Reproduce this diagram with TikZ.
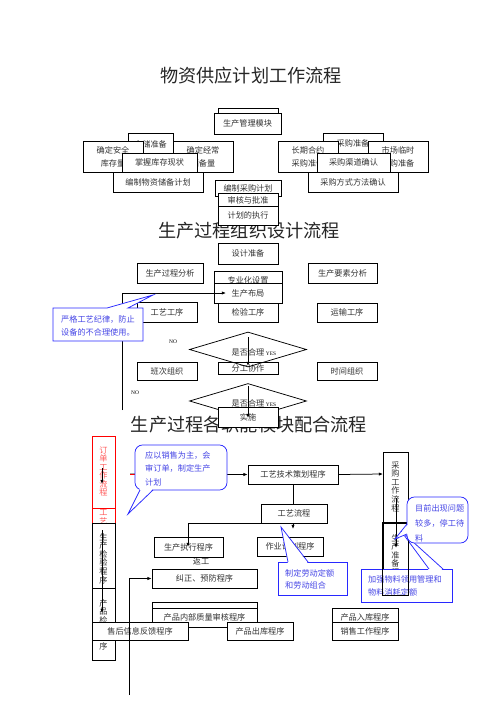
\documentclass[tikz,border=0pt]{standalone}
\usepackage{fontspec}
\setmainfont{Liberation Serif}
\newfontfamily\cjk{Noto Sans CJK SC}
\usetikzlibrary{arrows.meta,shapes.geometric}
\definecolor{cb}{RGB}{40,40,255}
\definecolor{ct}{RGB}{70,70,230}
\definecolor{cr}{RGB}{255,0,0}
\definecolor{crt}{RGB}{255,90,90}
\tikzset{
 box/.style={draw,fill=white,line width=0.9pt,inner sep=0pt,font=\cjk\fontsize{9.8}{15.6}\selectfont,text=black!80,align=center},
 ttl/.style={font=\cjk\fontsize{21.8}{24}\selectfont,text=black!85,inner sep=0pt},
 arr/.style={line width=0.9pt,-{Latex[length=5pt,width=4pt]}},
 ln/.style={line width=0.9pt},
 co/.style={draw=cb,fill=white,line width=0.9pt},
 cot/.style={font=\cjk\fontsize{9.8}{#1}\selectfont,text=ct,align=left,inner sep=0pt,anchor=west},
 vt/.style={font=\cjk\fontsize{9.8}{10.3}\selectfont,align=center,inner sep=0pt,text=black!80},
 yn/.style={font=\fontsize{6.5}{7}\selectfont,inner sep=0pt},
 dia/.style={draw,diamond,line width=0.9pt,inner sep=0pt,minimum width=140.4pt,minimum height=42pt,aspect=3.3},
}
\newcommand\bx[7][]{\node[box,minimum width={(#5-#3)*1.2pt},minimum height={(#6-#4)*1.2pt},#1] (#2) at ({(#3+#5)/2},{(#4+#6)/2}) {#7};}
\begin{document}
\begin{tikzpicture}[x=1.2pt,y=-1.2pt]
\fill[white] (0,0) rectangle (496,702);
\useasboundingbox (0,0) rectangle (496,702);
% titles
\node[ttl] (t1) at (251,76) {物资供应计划工作流程};
\node[ttl] (t2) at (249,231) {生产过程组织设计流程};
\node[ttl] (t3) at (249,425) {生产过程各职能模块配合流程};
% ===== section 1 =====
\bx{mb}{218}{108}{278}{120}{}
\bx{m}{214}{113}{281}{134}{生产管理模块}
\bx{cc}{128}{133}{173}{155}{仓储准备}
\bx{aq}{83}{141}{143}{172}{确定安全\\库存量}
\bx{jc}{173}{141}{233}{172}{确定经常\\储备量}
\bx{zw}{122}{153}{197}{172}{掌握库存现状}
\bx{bz}{113}{172}{203}{192}{编制物资储备计划}
\bx{cg}{323}{133}{383}{153}{采购准备}
\bx{cq}{278}{141}{338}{172}{长期合约\\采购准备}
\bx{sc}{368}{141}{428}{172}{市场临时\\采购准备}
\bx{qd}{317}{153}{390}{172}{采购渠道确认}
\bx{fs}{308}{172}{398}{192}{采购方式方法确认}
\bx{bc}{215}{180}{281}{196}{编制采购计划}
\bx{sh}{218}{193}{278}{208}{审核与批准}
\bx{zx}{218}{206}{278}{225}{计划的执行}
% ===== section 2 =====
\bx{sj}{218}{243}{278}{264}{设计准备}
\bx{gcfx}{137}{263}{203}{283}{生产过程分析}
\bx{zy}{214}{271}{282}{290}{专业化设置}
\bx{bj}{214}{283}{282}{303}{生产布局}
\bx{ys}{308}{263}{377}{283}{生产要素分析}
\bx{gy}{137}{302}{197}{322}{工艺工序}
\bx{jy}{218}{303}{278}{322}{检验工序}
\bx{ysgx}{317}{303}{377}{322}{运输工序}
\coordinate (c1) at (122,410);
\coordinate (c2) at (226,293);
\draw[arr] (c1) |- (c2);
\draw[co] (53,308) -- (107,308) -- (153,295) -- (128,308) -- (143,308) -- (143,341) -- (53,341) -- cycle;
\node[cot=15.6pt] (cy1) at (61,325.5) {严格工艺纪律，防止\\设备的不合理使用。};
\bx{bc2}{137}{362}{197}{380}{班次组织}
\bx{fg}{218}{362}{278}{374}{分工协作}
\bx{sjzz}{317}{362}{377}{380}{时间组织}
\node[dia] (d1) at (248,349.5) {};
\node[box,draw=none,fill=none] (d1t) at (248,352) {是否合理};
\node[yn] (y1) at (271,354) {YES};
\node[yn] (n1) at (173,342) {NO};
\coordinate (a1) at (248,337);
\coordinate (a1e) at (248,366);
\draw[arr] (a1) -- (a1e);
\node[dia] (d2) at (248,401) {};
\node[box,draw=none,fill=none] (d2t) at (248,403) {是否合理};
\node[yn] (y2) at (271,405) {YES};
\node[yn] (n2) at (135,393) {NO};
\bx{ss}{218}{407}{278}{427}{实施}
\coordinate (a2) at (248,386);
\coordinate (a2e) at (248,418);
\draw[arr] (a2) -- (a2e);
% ===== section 3 =====
\bx[draw=cr]{r1}{92}{436}{115}{508}{}
\node[vt,text=crt] (r1t) at (103.5,471.5) {订\\单\\工\\作\\流\\程};
\bx[draw=cr]{r2}{92}{508}{115}{535}{}
\node[vt,text=crt] (r2t) at (103.5,517) {工\\艺};
\bx{k3}{92}{523}{115}{588}{}
\node[vt] (k3t) at (103.5,558.5) {生\\产\\检\\验\\程\\序};
\bx{k4}{92}{588}{115}{660}{}
\node[vt] (k4t) at (103.5,624.5) {产\\品\\检\\验\\程\\序};
\bx{cgc}{383}{452}{408}{523}{}
\node[vt] (cgct) at (395.5,486.5) {采\\购\\工\\作\\流\\程};
\bx{scz}{383}{523}{408}{595}{}
\node[vt] (sczt) at (395.5,559.5) {生\\产\\准\\备\\程\\序};
\coordinate (b1) at (130,474);
\coordinate (b1r) at (136,474);
\bx{jh}{248}{465}{338}{484}{工艺技术策划程序}
\draw[arr] (b1) -- (jh.west);
\draw[ln,cr] (b1) -- (b1r);
\draw[co,rounded corners=9pt] (135,445) rectangle (227,490);
\fill[white] (140,488.6) -- (128,514) -- (153,488.6) -- cycle;
\draw[ln,cb] (140,490) -- (128,514) -- (153,490);
\node[cot=16.2pt] (yy) at (145,468.5) {应以销售为主，会\\审订单，制定生产\\计划};
\coordinate (b2) at (383,474);
\draw[arr] (jh.east) -- (b2);
\coordinate (b3) at (293,529);
\draw[arr] (jh.south) -- (b3);
\bx{gylc}{261}{504}{327}{523}{工艺流程}
\node[box,draw=none,fill=none] (fg2) at (201,561) {返工};
\bx{zxcx}{154}{537}{223}{557}{生产执行程序}
\bx{zyjh}{257}{537}{323}{556}{作业计划程序}
\coordinate (b4) at (188,547);
\draw[arr] (gylc.south west) -| (b4);
\bx{jz}{152}{569}{257}{588}{纠正、预防程序}
\bx{nbb}{152}{602}{257}{620}{}
\bx{nb}{152}{608}{257}{627}{产品内部质量审核程序}
\bx{shxx}{92}{622}{188}{640}{售后信息反馈程序}
\bx{ck}{227}{622}{293}{640}{产品出库程序}
\bx{rk}{332}{608}{398}{626}{产品入库程序}
\bx{xs}{332}{622}{398}{640}{销售工作程序}
\coordinate (v1) at (102,468);
\coordinate (v1e) at (102,484);
\draw[arr] (v1) -- (v1e);
\coordinate (v2) at (102,530);
\coordinate (v2e) at (102,613);
\draw[arr] (v2) -- (v2e);
\coordinate (b5) at (129,695);
\draw[arr] (b5) |- (jz.west);
\coordinate (v3) at (396,498);
\coordinate (v3e) at (396,548);
\draw[arr] (v3) -- (v3e);
% callout 制定劳动定额
\draw[co] (278,562) rectangle (347,595);
\fill[white] (288,563.6) -- (281,527) -- (308,563.6) -- cycle;
\draw[ln,cb] (288,562) -- (281,527) -- (308,562);
\node[cot=14.4pt] (zd) at (285,579) {制定劳动定额\\和劳动组合};
% callout 加强
\draw[co] (361,569) rectangle (452,602);
\fill[white] (429,570.6) -- (401,531) -- (443,570.6) -- cycle;
\draw[ln,cb] (429,569) -- (401,531) -- (443,569);
\node[cot=15.6pt] (jq) at (368,585.5) {加强物料领用管理和\\物料消耗定额};
\draw[ln] (scz.north west) rectangle (scz.south east);
% callout 目前
\draw[co,rounded corners=9pt] (407,497) rectangle (468,543);
\fill[white] (408.6,524) -- (395,539) -- (408.6,534) -- cycle;
\draw[ln,cb] (407,524) -- (395,539) -- (407,534);
\node[cot=18pt] (mq) at (415,523) {目前出现问题\\较多，停工待\\料};
\end{tikzpicture}
\end{document}
